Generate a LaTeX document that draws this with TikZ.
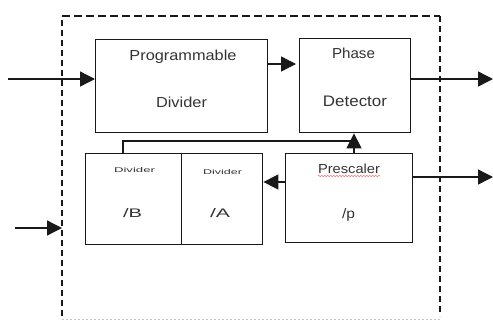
\documentclass[tikz,border=0pt]{standalone}
\usepackage{fontspec}
\usepackage{graphicx}
\setsansfont{Liberation Sans}
\usetikzlibrary{arrows.meta,decorations.pathmorphing}

% a label squeezed into a given width and height
\newcommand\fitlab[3]{\resizebox{#1}{#2}{\sffamily #3}}

\begin{document}
\begin{tikzpicture}[x=1pt,y=-1pt,
  blockbox/.style={draw=black!90,line width=1.4pt,inner sep=0pt,anchor=north west},
  lab/.style={inner sep=0pt,anchor=base,text=black!80},
  wire/.style={line width=1.4pt,black!90},
  arr/.style={wire,-{Triangle[length=15pt,width=15pt]}},
  border/.style={line width=1.5pt,black!90,dash pattern=on 6pt off 4pt},
  bordertop/.style={line width=1.5pt,black!90,dash pattern=on 8pt off 4pt}]
\useasboundingbox (0,0) rectangle (493,322);

% module outline
\draw[border] (62,316) -- (62,16);
\draw[border] (440,16) -- (440,316);
\draw[bordertop] (62,16) -- (440,16);
\draw[gray!45,line width=0.6pt,dash pattern=on 2pt off 2pt] (62,319) -- (440,319);

% blocks
\node[blockbox,minimum width=172pt,minimum height=93pt] (pd)  at (95,39)  {};
\node[blockbox,minimum width=111pt,minimum height=94pt] (phd) at (299,38) {};
\node[blockbox,minimum width=96pt,minimum height=91pt]  (divb) at (85,153) {};
\node[blockbox,minimum width=81pt,minimum height=91pt]  (diva) at (181,153) {};
\node[blockbox,minimum width=127pt,minimum height=89pt] (pre) at (285,153) {};

% labels
\node[lab] (tprog) at (183,60)   {\fitlab{107pt}{10.5pt}{Programmable}};
\node[lab] (tdiv)  at (181.5,107){\fitlab{51pt}{10.5pt}{Divider}};
\node[lab] (tpha)  at (353.5,58) {\fitlab{43pt}{10.5pt}{Phase}};
\node[lab] (tdet)  at (355,106)  {\fitlab{64pt}{10.5pt}{Detector}};
\node[lab] (tdb)   at (134.5,172){\fitlab{41pt}{5pt}{Divider}};
\node[lab] (tda)   at (222.5,174){\fitlab{39pt}{5pt}{Divider}};
\node[lab] (tb)    at (132.5,217){\fitlab{19pt}{9pt}{/B}};
\node[lab] (ta)    at (220,217)  {\fitlab{20pt}{9pt}{/A}};
\node[lab] (tpre)  at (349,173)  {\fitlab{62pt}{9.5pt}{Prescaler}};
\node[lab] (tp)    at (348.5,218){\fitlab{13pt}{10pt}{/p}};
% spell-check squiggle under the prescaler label
\draw[red!55,line width=0.5pt,decorate,decoration={snake,amplitude=0.8pt,segment length=3pt}]
  ([yshift=-3pt]tpre.base west) -- ([yshift=-3pt]tpre.base east);

% free ends of the external connections
\coordinate (inA)  at (8,79);
\coordinate (inB)  at (15,228);
\coordinate (inBe) at (62,228);
\coordinate (outA) at (493,79);
\coordinate (outB) at (493,177);
\coordinate (fbc)  at (123,141);
\coordinate (fbr)  at (354,141);

% connections
\draw[arr] (inA) -- (pd.west |- inA);
\draw[arr] (inB) -- (inBe);
\draw[arr] (pd.east |- 0,64) -- ([xshift=-3pt]phd.west |- 0,64);
\draw[arr] (phd.east |- outA) -- (outA);
\draw[arr] (pre.east |- outB) -- (outB);
\draw[arr] (pre.west |- 0,182) -- (diva.east |- 0,182);
\draw[wire] (pre.north -| fbr) -- (fbr) -- (fbc) -- (divb.north -| fbc);
\draw[arr] (fbr) -- (phd.south -| fbr);
\end{tikzpicture}
\end{document}
